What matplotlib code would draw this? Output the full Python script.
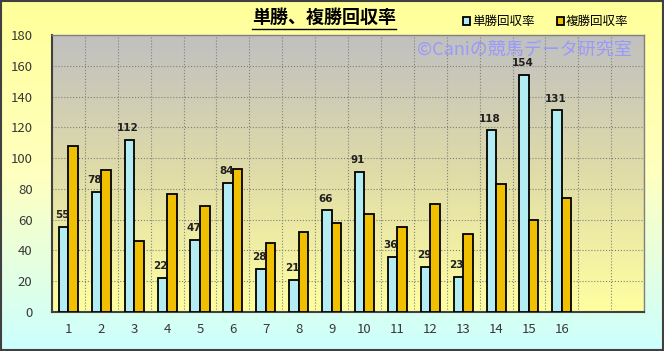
import matplotlib.pyplot as plt
import numpy as np
from matplotlib.colors import LinearSegmentedColormap
from matplotlib.patches import Rectangle

plt.rcParams['font.family'] = ['Noto Sans CJK JP', 'DejaVu Sans']

races = [str(i) for i in range(1, 17)]
tansho = [55, 78, 112, 22, 47, 84, 28, 21, 66, 91, 36, 29, 23, 118, 154, 131]
fukusho = [108, 92, 46, 77, 69, 93, 45, 52, 58, 64, 55, 70, 51, 83, 60, 74]
n_slots = 18

fig = plt.figure(figsize=(6.64, 3.51), dpi=100)

# figure background gradient (yellow top -> light cyan bottom)
bg = fig.add_axes([0, 0, 1, 1], zorder=-10)
bg_cmap = LinearSegmentedColormap.from_list('bg', ['#ffff99', '#ffffc0', '#ccffff'])
bg.imshow(np.linspace(0, 1, 256).reshape(-1, 1), cmap=bg_cmap, aspect='auto',
          extent=[0, 1, 0, 1], origin='upper')
bg.set_axis_off()
bg.add_patch(Rectangle((0.002, 0.003), 0.996, 0.994, transform=bg.transAxes,
                       fill=False, ec='#404040', lw=1.5))

ax = fig.add_axes([0.0783, 0.111, 0.8917, 0.789])
ax.set_facecolor('none')
pa_cmap = LinearSegmentedColormap.from_list('pa', ['#c0c0c0', '#e0dca8', '#ffffa0'])
ax.imshow(np.linspace(0, 1, 256).reshape(-1, 1), cmap=pa_cmap, aspect='auto',
          extent=[0.5, n_slots + 0.5, 0, 180], origin='upper', zorder=0)

x = np.arange(1, len(races) + 1)
w = 0.29
b1 = ax.bar(x - w / 2, tansho, w, color='#b4ecf4', edgecolor='black', lw=1.3,
            zorder=3, label='単勝回収率')
b2 = ax.bar(x + w / 2, fukusho, w, color='#f0c000', edgecolor='black', lw=1.3,
            zorder=3, label='複勝回収率')

for xi, v in zip(x, tansho):
    ax.text(xi - w / 2 - 0.05, v + 4.5, str(v), ha='center', va='bottom', fontsize=7.5,
            fontweight='bold', color='#202020', family='DejaVu Sans', zorder=4)

ax.set_xlim(0.5, n_slots + 0.5)
ax.set_ylim(0, 180)
ax.set_yticks(range(0, 181, 20))
ax.set_xticks(x)
ax.set_xticklabels(races)
ax.set_xticks(np.arange(0.5, n_slots + 1), minor=True)
ax.grid(True, which='minor', axis='x', ls=':', color='#808080', lw=0.8, zorder=1)
ax.grid(True, which='major', axis='y', ls=':', color='#808080', lw=0.8, zorder=1)
ax.tick_params(axis='both', which='both', length=0, labelsize=9.5, colors='#383838')
ax.tick_params(axis='x', pad=8)
ax.tick_params(axis='y', pad=14)
for s in ['top', 'right']:
    ax.spines[s].set_color('#808080')
    ax.spines[s].set_linewidth(1.0)
for s in ['left', 'bottom']:
    ax.spines[s].set_color('#404040')
    ax.spines[s].set_linewidth(1.5)

fig.text(0.952, 0.857, '©Caniの競馬データ研究室', ha='right', va='center',
         fontsize=13, color='#9999ff', zorder=2)

fig.text(0.488, 0.949, '単勝、複勝回収率', ha='center', va='center', fontsize=13,
         fontweight='bold', color='black')
fig.add_artist(plt.Line2D([0.379, 0.597], [0.918, 0.918], color='black', lw=1.0))

fig.legend(handles=[b1, b2], loc='center', bbox_to_anchor=(0.822, 0.938), ncol=2,
           frameon=False, fontsize=9, handlelength=0.55, handleheight=0.55,
           handletextpad=0.15, columnspacing=1.8)

fig.savefig('out.png', dpi=100)
